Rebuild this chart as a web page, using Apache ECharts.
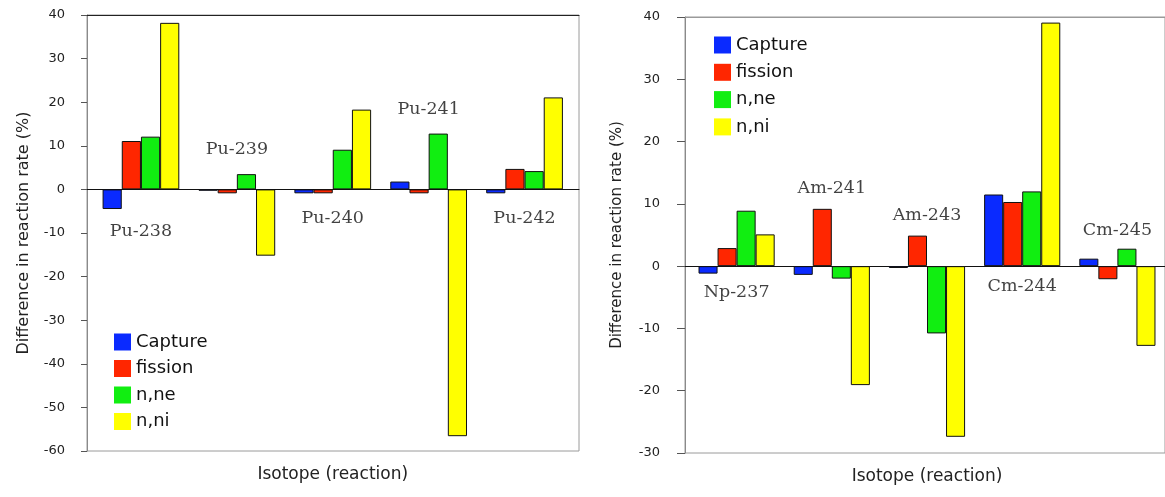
<!DOCTYPE html>
<html>
<head>
<meta charset="utf-8">
<script src="https://cdn.jsdelivr.net/npm/echarts@6/dist/echarts.min.js"></script>
<style>
html,body{margin:0;padding:0;background:#fff;}
#chart{width:1165px;height:497px;}
</style>
</head>
<body>
<div id="chart"></div>
<script>
// ---- data ----
const seriesNames = ['Capture', 'fission', 'n,ne', 'n,ni'];

const leftCategories = ['Pu-238', 'Pu-239', 'Pu-240', 'Pu-241', 'Pu-242'];
const leftCapture = [-4.5, -0.3, -0.9, 1.8, -0.9];
const leftFission = [11.1, -0.9, -0.9, -0.9, 4.7];
const leftNne = [12.1, 3.5, 9.1, 12.8, 4.2];
const leftNni = [38.2, -15.2, 18.3, -56.6, 21.1];
const leftLabelValue = [-9.6, 9.2, -6.6, 18.3, -6.6];

const rightCategories = ['Np-237', 'Am-241', 'Am-243', 'Cm-244', 'Cm-245'];
const rightCapture = [-1.2, -1.4, -0.3, 11.5, 1.2];
const rightFission = [2.9, 9.2, 4.9, 10.3, -2.1];
const rightNne = [8.9, -2.0, -10.8, 12.0, 2.8];
const rightNni = [5.1, -19.1, -27.4, 39.1, -12.8];
const rightLabelValue = [-4.3, 12.5, 8.2, -3.3, 5.8];

const leftYTicks = {min: -60, max: 40, interval: 10};
const rightYTicks = {min: -30, max: 40, interval: 10};

const yName = 'Difference in reaction rate (%)';
const xName = 'Isotope (reaction)';

// ---- styles ----
const colors = ['#0a2aff', '#ff2600', '#11ee11', '#ffff00'];
const sans = 'DejaVu Sans';
const serif = 'DejaVu Serif';

const chart = echarts.init(document.getElementById('chart'), null, {renderer: 'canvas'});

function hiddenAxisParts() {
  return {
    axisLabel: {show: false}, axisTick: {show: false}, splitLine: {show: false}
  };
}

function frameXAxes(gridIndex, topColor) {
  return [
    Object.assign({
      type: 'value', gridIndex: gridIndex, min: 0, max: 1, position: 'bottom',
      axisLine: {show: true, onZero: true, lineStyle: {color: '#111', width: 1}}
    }, hiddenAxisParts()),
    Object.assign({
      type: 'value', gridIndex: gridIndex, min: 0, max: 1, position: 'top',
      axisLine: {show: true, onZero: false, lineStyle: {color: topColor, width: 1}}
    }, hiddenAxisParts())
  ];
}

function dataXAxis(gridIndex, cats) {
  return {
    type: 'category', gridIndex: gridIndex, data: cats, position: 'bottom',
    axisLine: {show: false, onZero: false}, axisTick: {show: false},
    axisLabel: {show: false}, splitLine: {show: false},
    name: xName, nameLocation: 'middle', nameGap: 15,
    nameTextStyle: {fontFamily: sans, fontSize: 17, color: '#222'}
  };
}

function frameYAxis(gridIndex, ticks, nameGap, nameSize, labelMargin, tickLen) {
  return {
    type: 'value', gridIndex: gridIndex, min: ticks.min, max: ticks.max, interval: ticks.interval,
    axisLine: {show: true, lineStyle: {color: '#8a8a8a', width: 1}},
    axisTick: {show: true, inside: false, length: tickLen, lineStyle: {color: '#555'}},
    axisLabel: {show: true, margin: labelMargin, fontFamily: sans, fontSize: 13, color: '#222'},
    splitLine: {show: false},
    name: yName, nameLocation: 'middle', nameGap: nameGap,
    nameTextStyle: {fontFamily: sans, fontSize: nameSize, color: '#222'}
  };
}

function dataYAxis(gridIndex, ticks) {
  return Object.assign({
    type: 'value', gridIndex: gridIndex, min: ticks.min, max: ticks.max, interval: ticks.interval,
    axisLine: {show: false}
  }, hiddenAxisParts());
}

function barSeries(xIdx, yIdx, arrays) {
  return arrays.map((arr, i) => ({
    type: 'bar', name: seriesNames[i], xAxisIndex: xIdx, yAxisIndex: yIdx,
    data: arr, barGap: '0%', barCategoryGap: '20%',
    itemStyle: {color: colors[i], borderColor: '#111', borderWidth: 1},
    emphasis: {disabled: true}
  }));
}

function labelSeries(xIdx, yIdx, cats, vals) {
  return {
    type: 'scatter', xAxisIndex: xIdx, yAxisIndex: yIdx, symbolSize: 0, z: 5,
    silent: true,
    data: cats.map((c, i) => ({name: c, value: [c, vals[i]]})),
    label: {show: true, position: 'inside', formatter: '{b}',
      fontFamily: serif, fontSize: 17.5, color: '#111'}
  };
}

function legendAt(left, top, gap) {
  return {
    orient: 'vertical', left: left, top: top, itemWidth: 17, itemHeight: 17, itemGap: gap,
    data: seriesNames, icon: 'rect', selectedMode: false,
    itemStyle: {borderWidth: 0},
    textStyle: {fontFamily: sans, fontSize: 18, color: '#111'}
  };
}

const option = {
  backgroundColor: '#fff',
  animation: false,
  grid: [
    {left: 87, top: 15, width: 492, height: 436, show: true, borderColor: '#9a9a9a', borderWidth: 1, backgroundColor: 'transparent'},
    {left: 93, top: 15, width: 479.5, height: 436},
    {left: 685, top: 17, width: 490, height: 436, show: true, borderColor: '#9a9a9a', borderWidth: 1, backgroundColor: 'transparent'},
    {left: 689, top: 17, width: 479, height: 436}
  ],
  xAxis: [].concat(
    frameXAxes(0, '#222'),
    [dataXAxis(1, leftCategories)],
    frameXAxes(2, '#9a9a9a'),
    [dataXAxis(3, rightCategories)]
  ),
  yAxis: [
    frameYAxis(0, leftYTicks, 55, 16, 22, 6),
    dataYAxis(1, leftYTicks),
    frameYAxis(2, rightYTicks, 60, 15, 25, 8),
    dataYAxis(3, rightYTicks)
  ],
  legend: [legendAt(109, 328, 8.5), legendAt(709, 31, 9.3)],
  series: [].concat(
    barSeries(2, 1, [leftCapture, leftFission, leftNne, leftNni]),
    [labelSeries(2, 1, leftCategories, leftLabelValue)],
    barSeries(5, 3, [rightCapture, rightFission, rightNne, rightNni]),
    [labelSeries(5, 3, rightCategories, rightLabelValue)]
  )
};

chart.setOption(option);
</script>
</body>
</html>
